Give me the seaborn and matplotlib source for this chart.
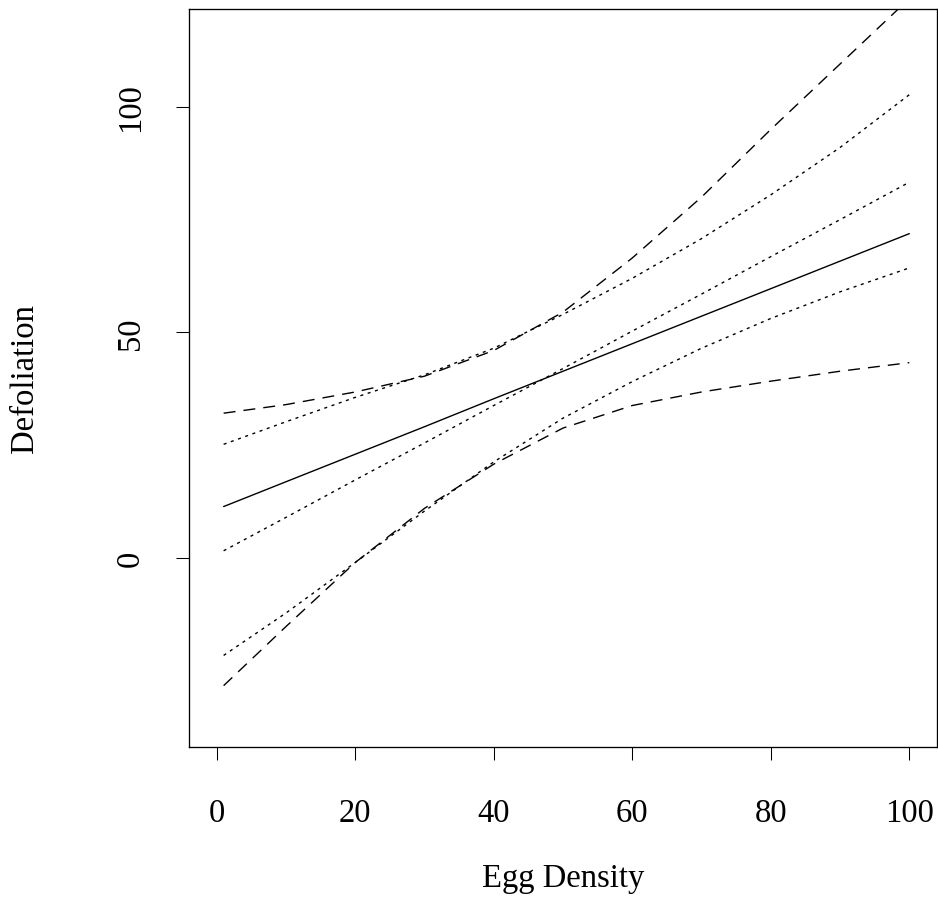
import matplotlib
matplotlib.use("Agg")
import matplotlib.pyplot as plt
import seaborn as sns
import pandas as pd

# ---- data ----
egg_density = [1, 10, 20, 30, 40, 50, 60, 70, 80, 90, 100]
fit_solid = [11.4, 16.9, 23.0, 29.1, 35.3, 41.4, 47.5, 53.6, 59.7, 65.8, 71.9]
fit_dotted = [1.6, 9.0, 17.3, 25.5, 33.8, 42.0, 50.3, 58.5, 66.8, 75.0, 83.3]
dotted_upper = [25.2, 30.2, 35.6, 40.6, 46.5, 54.0, 62.0, 70.8, 80.5, 91.0, 102.7]
dotted_lower = [-21.6, -12.2, -1.0, 10.4, 21.3, 31.0, 39.1, 46.5, 53.1, 59.0, 64.3]
dashed_upper = [32.1, 34.0, 36.8, 40.3, 46.0, 54.5, 66.5, 80.0, 95.0, 109.5, 124.0]
dashed_lower = [-28.3, -15.2, -1.0, 11.0, 20.8, 28.8, 33.8, 36.8, 39.2, 41.4, 43.3]

x_ticks = [0, 20, 40, 60, 80, 100]
y_ticks = [0, 50, 100]
x_label = "Egg Density"
y_label = "Defoliation"

sns.set_theme(style="white")
plt.rcParams["font.family"] = ["Liberation Serif", "DejaVu Serif"]

fig = plt.figure(figsize=(9.38, 9.2), dpi=100)
W, H = 938, 920
left, right, top, bottom = 189, 937, 10, 748
ax = fig.add_axes([left / W, 1 - bottom / H, (right - left) / W, (bottom - top) / H])

DASH = (8.6, 5.8)
DOT = (2.2, 3.3)
series = [
    (fit_solid, None),
    (fit_dotted, DOT),
    (dotted_upper, DOT),
    (dotted_lower, DOT),
    (dashed_upper, DASH),
    (dashed_lower, DASH),
]
for vals, dash in series:
    df = pd.DataFrame({"x": egg_density, "y": vals})
    sns.lineplot(data=df, x="x", y="y", ax=ax, color="black", linewidth=1.0)
    line = ax.lines[-1]
    if dash is not None:
        line.set_dashes(dash)
        line.set_dash_capstyle("butt")

ax.set_xlim(-4, 104)
ax.set_ylim(-41.9, 121.7)
ax.set_xticks(x_ticks)
ax.set_xticklabels([str(v) for v in x_ticks])
ax.set_yticks(y_ticks)
ax.set_yticklabels([str(v) for v in y_ticks])

for s in ax.spines.values():
    s.set_visible(True)
    s.set_color("black")
    s.set_linewidth(0.95)

ax.tick_params(axis="both", which="major", direction="out", length=9.4,
               width=0.75, color="black", labelsize=23.5, labelcolor="black",
               bottom=True, left=True, top=False, right=False)
ax.tick_params(axis="x", pad=27)
ax.tick_params(axis="y", pad=21.5)
for lbl in ax.get_yticklabels():
    lbl.set_rotation(90)
    lbl.set_va("center")
    lbl.set_ha("right")

ax.set_xlabel(x_label, fontsize=23.5, color="black", va="center")
ax.set_ylabel(y_label, fontsize=23.5, color="black", va="center", ha="center")
ax.xaxis.set_label_coords(0.5, (bottom - 879) / (bottom - top))
ax.yaxis.set_label_coords((25 - left) / (right - left), 0.5)
ax.grid(False)
ax.set_facecolor("white")
fig.patch.set_facecolor("white")

fig.savefig("out.png", dpi=100, facecolor="white")
